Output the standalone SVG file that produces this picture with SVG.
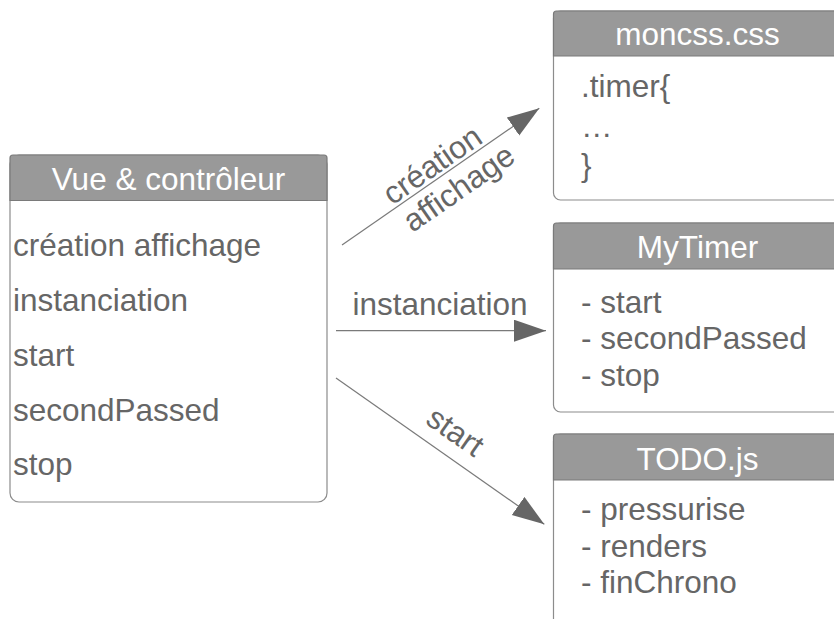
<svg xmlns="http://www.w3.org/2000/svg" width="834" height="619" viewBox="0 0 834 619">
  <defs>
    <style>
      text { font-family: "Liberation Sans", Arial, sans-serif; font-size: 31.5px; fill: #666666; }
      .hdr { fill: #ffffff; text-anchor: middle; }
      .body { fill: #ffffff; stroke: #8c8c8c; stroke-width: 1.2; }
      .head { fill: #999999; stroke: #7a7a7a; stroke-width: 1.2; }
      .conn { stroke: #7a7a7a; stroke-width: 1.2; fill: none; marker-end: url(#arr); }
      .lbl { text-anchor: middle; }
    </style>
    <marker id="arr" markerUnits="userSpaceOnUse" markerWidth="34" markerHeight="24" refX="32" refY="11" orient="auto">
      <path d="M0,0 L32,11 L0,22 z" fill="#666666"/>
    </marker>
  </defs>

  <g id="node-vue">
    <rect class="body" x="10" y="155" width="317" height="347" rx="9"/>
    <path class="head" d="M10,200.5 V158 Q10,155 13,155 H324 Q327,155 327,158 V200.5 Z"/>
    <text class="hdr" x="168.5" y="190">Vue &amp; contrôleur</text>
    <text x="13" y="256">création affichage</text>
    <text x="13" y="310.7">instanciation</text>
    <text x="13" y="366">start</text>
    <text x="13" y="420.7">secondPassed</text>
    <text x="13" y="475">stop</text>
  </g>

  <g id="node-moncss">
    <rect class="body" x="553.5" y="11" width="300" height="189" rx="7"/>
    <path class="head" d="M553.5,56 V14 Q553.5,11 556.5,11 H856 V56 Z"/>
    <text class="hdr" x="697.5" y="45">moncss.css</text>
    <text x="581" y="97">.timer{</text>
    <text x="581" y="137">…</text>
    <text x="581" y="175.5">}</text>
  </g>

  <g id="node-mytimer">
    <rect class="body" x="553.5" y="223" width="300" height="189" rx="7"/>
    <path class="head" d="M553.5,269 V226 Q553.5,223 556.5,223 H856 V269 Z"/>
    <text class="hdr" x="697.5" y="258">MyTimer</text>
    <text x="581" y="313.3">- start</text>
    <text x="581" y="349.3">- secondPassed</text>
    <text x="581" y="385.5">- stop</text>
  </g>

  <g id="node-todo">
    <rect class="body" x="553.5" y="434" width="300" height="200" rx="7"/>
    <path class="head" d="M553.5,480 V437 Q553.5,434 556.5,434 H856 V480 Z"/>
    <text class="hdr" x="697.5" y="470">TODO.js</text>
    <text x="581" y="520">- pressurise</text>
    <text x="581" y="556.7">- renders</text>
    <text x="581" y="593.3">- finChrono</text>
  </g>

  <g id="connectors">
    <line class="conn" x1="342" y1="245" x2="539.3" y2="108.3"/>
    <line class="conn" x1="336" y1="330.7" x2="546" y2="330.7"/>
    <line class="conn" x1="336" y1="378" x2="544.3" y2="524.3"/>
    <g transform="translate(446,177) rotate(-34.8)">
      <text class="lbl" x="-4.5" y="-7">création</text>
      <text class="lbl" x="4.2" y="27">affichage</text>
    </g>
    <text class="lbl" x="440" y="315">instanciation</text>
    <g transform="translate(455,432) rotate(34.9)">
      <text class="lbl" x="0" y="10">start</text>
    </g>
  </g>
</svg>
